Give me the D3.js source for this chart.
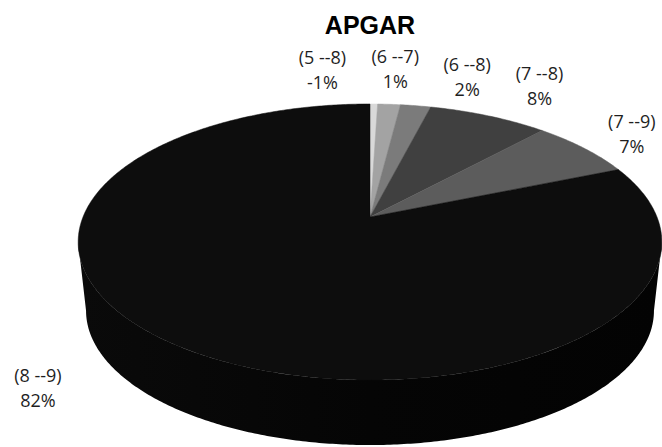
<!DOCTYPE html>
<html>
<head>
<meta charset="utf-8">
<script src="https://cdn.jsdelivr.net/npm/d3@7"></script>
<style>
  body { margin: 0; background: #fff; }
  svg { display: block; }
</style>
</head>
<body>
<svg id="chart"></svg>
<script>
//******************************data*****************************//
var categories = ["(5 --8)", "(6 --7)", "(6 --8)", "(7 --8)", "(7 --9)", "(8 --9)"];
var values = [0.5, 1.5, 2.0, 7.9, 6.9, 81.2];
var pctLabels = ["-1%", "1%", "2%", "8%", "7%", "82%"];
var title = "APGAR";

//*****************************layout*****************************//
var screen = { width: 662, height: 447 };
var colors = ["#d9d9d9", "#a3a3a3", "#7b7b7b", "#404040", "#5c5c5c", "#0d0d0d"];
// nudges from the computed label anchor (like excel's best fit)
var labelNudge = [[-52, -16], [3, -17], [44, -11], [31, -13], [10, -2], [-98, 8]];

// pseudo 3d disc: perspective squashes the far half
var disc = {
  cx: 370, cy: 217, rx: 287, ry: 133.5, k: -0.1812,
  depth: 69.4, shrink: 0.973
};

var proj = function(theta, r, level)
{
  var u = r * Math.sin(theta), v = -r * Math.cos(theta);
  var den = 1 + disc.k * v;
  var s = level ? disc.shrink : 1;
  var y0 = level ? disc.cy + disc.depth : disc.cy;
  return [disc.cx + s * disc.rx * u / den, y0 + s * disc.ry * v / den];
};

var arcPoints = function(a0, a1, level)
{
  var n = Math.max(2, Math.ceil(Math.abs(a1 - a0) / 0.01));
  var pts = [];
  for (var i = 0; i <= n; i++)
  {
    pts.push(proj(a0 + (a1 - a0) * i / n, 1, level));
  }
  return pts;
};

var svg = d3.select("#chart")
  .attr("width", screen.width)
  .attr("height", screen.height);

var defs = svg.append("defs");
var grad = defs.append("linearGradient")
  .attr("id", "sideGrad")
  .attr("x1", "0").attr("x2", "1").attr("y1", "0").attr("y2", "0");
grad.append("stop").attr("offset", "0").attr("stop-color", "#0a0a0a");
grad.append("stop").attr("offset", "0.5").attr("stop-color", "#050505");
grad.append("stop").attr("offset", "1").attr("stop-color", "#030303");

var pie = d3.pie().sort(null).value(function(d) { return d; });
var slices = pie(values);
var line = d3.line();

//*****************************side wall*****************************//
// visible front wall runs between the two silhouette tangent points
var tA = Math.acos(disc.k);            // right tangent
var tB = 2 * Math.PI - tA;             // left tangent
var plot = svg.append("g").classed("pie", true);

slices.forEach(function(d, i)
{
  var a0 = Math.max(d.startAngle, tA), a1 = Math.min(d.endAngle, tB);
  if (a1 <= a0) return;
  var pts = arcPoints(a0, a1, 0).concat(arcPoints(a1, a0, 1));
  plot.append("path")
    .attr("d", line(pts) + "Z")
    .attr("fill", i == slices.length - 1 ? "url(#sideGrad)" : d3.color(colors[i]).darker(0.6))
    .attr("stroke", "none");
});

//*****************************top faces*****************************//
plot.selectAll("path.top")
  .data(slices)
  .enter()
  .append("path")
  .classed("top", true)
  .attr("d", function(d)
  {
    var pts = [[disc.cx, disc.cy]].concat(arcPoints(d.startAngle, d.endAngle, 0));
    return line(pts) + "Z";
  })
  .attr("fill", function(d, i) { return colors[i]; })
  .attr("stroke", function(d, i) { return colors[i]; })
  .attr("stroke-width", 0.5);

//*****************************labels*****************************//
var labels = svg.append("g").classed("labels", true)
  .selectAll("g")
  .data(slices)
  .enter()
  .append("g")
  .attr("transform", function(d, i)
  {
    var p = proj((d.startAngle + d.endAngle) / 2, 1.2, 0);
    return "translate(" + (p[0] + labelNudge[i][0]) + "," + (p[1] + labelNudge[i][1]) + ")";
  });

labels.append("text")
  .attr("y", -12.5)
  .text(function(d, i) { return categories[i]; });
labels.append("text")
  .attr("y", 12.5)
  .text(function(d, i) { return pctLabels[i]; });
labels.selectAll("text")
  .attr("text-anchor", "middle")
  .attr("dominant-baseline", "central")
  .attr("font-family", "'Open Sans', 'Noto Sans', sans-serif")
  .attr("font-size", "18px")
  .attr("fill", "#1f1f1f");

svg.append("text")
  .attr("x", disc.cx)
  .attr("y", 34)
  .attr("text-anchor", "middle")
  .attr("font-family", "'Liberation Sans', Arial, sans-serif")
  .attr("font-weight", "bold")
  .attr("font-size", "25px")
  .attr("fill", "#000")
  .text(title);
</script>
</body>
</html>
